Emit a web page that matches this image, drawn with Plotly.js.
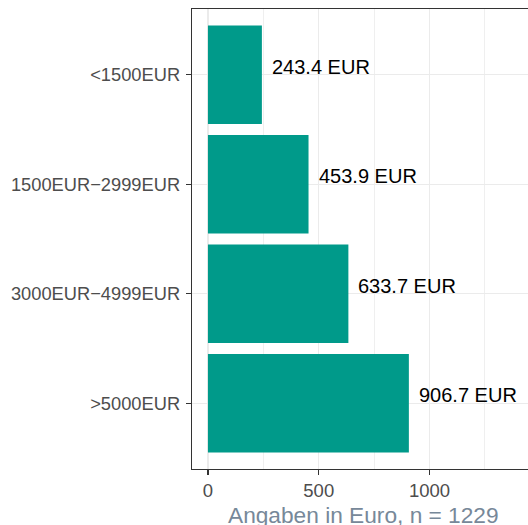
<!DOCTYPE html>
<html>
<head>
<meta charset="utf-8">
<script src="https://cdn.plot.ly/plotly-3.0.1.min.js"></script>
<style>
html,body{margin:0;padding:0;overflow:hidden;background:#fff;}
#chart{width:552px;height:525px;}
</style>
</head>
<body>
<div id="chart"></div>
<script>
const categories = ["<1500EUR", "1500EUR\u22122999EUR", "3000EUR\u22124999EUR", ">5000EUR"];
const values = [243.4, 453.9, 633.7, 906.7];
const labels = ["243.4 EUR", "453.9 EUR", "633.7 EUR", "906.7 EUR"];
const xTicks = [0, 500, 1000, 1500];
const xTickText = ["0", "500", "1000", "1500"];
const xTitle = "Angaben in Euro, n = 1229";

const trace = {
  type: "bar",
  orientation: "h",
  x: values,
  y: categories,
  width: 0.9,
  marker: {color: "#009A8A", line: {width: 0}},
  hoverinfo: "skip"
};

const annotations = values.map((v, i) => ({
  x: v, y: categories[i], xref: "x", yref: "y",
  text: labels[i], showarrow: false,
  xanchor: "left", yanchor: "middle",
  xshift: 8, yshift: 8,
  font: {family: "Liberation Sans, Arial, sans-serif", size: 20, color: "#000000"}
}));
annotations.push({
  x: 0.5, y: 0, xref: "paper", yref: "paper",
  text: xTitle, showarrow: false,
  xanchor: "center", yanchor: "middle",
  xshift: -4, yshift: -46,
  font: {family: "Liberation Sans, Arial, sans-serif", size: 22.7, color: "#778899"}
});

const layout = {
  width: 552, height: 525,
  margin: {l: 192, r: 9, t: 9, b: 56},
  paper_bgcolor: "#ffffff",
  plot_bgcolor: "#ffffff",
  showlegend: false,
  font: {family: "Liberation Sans, Arial, sans-serif"},
  xaxis: {
    range: [-72, 1512],
    tickvals: xTicks, ticktext: xTickText,
    showgrid: true, gridcolor: "#EBEBEB", gridwidth: 1.4,
    minor: {dtick: 250, tick0: 0, showgrid: true, gridcolor: "#EBEBEB", gridwidth: 0.8},
    zeroline: false,
    showline: true, linecolor: "#333333", linewidth: 1.2, mirror: true,
    ticks: "outside", ticklen: 5, tickwidth: 1.2, tickcolor: "#333333",
    tickfont: {size: 18.5, color: "#4D4D4D"}
  },
  yaxis: {
    type: "category",
    categoryorder: "array", categoryarray: categories,
    range: [3.6, -0.6],
    showgrid: true, gridcolor: "#EBEBEB", gridwidth: 1.4,
    zeroline: false,
    showline: true, linecolor: "#333333", linewidth: 1.2, mirror: true,
    ticks: "outside", ticklen: 5, tickwidth: 1.2, tickcolor: "#333333",
    tickfont: {size: 18.3, color: "#4D4D4D"},
    ticklabelstandoff: 2
  },
  annotations: annotations
};

Plotly.newPlot("chart", [trace], layout, {staticPlot: true, displayModeBar: false});
</script>
</body>
</html>
